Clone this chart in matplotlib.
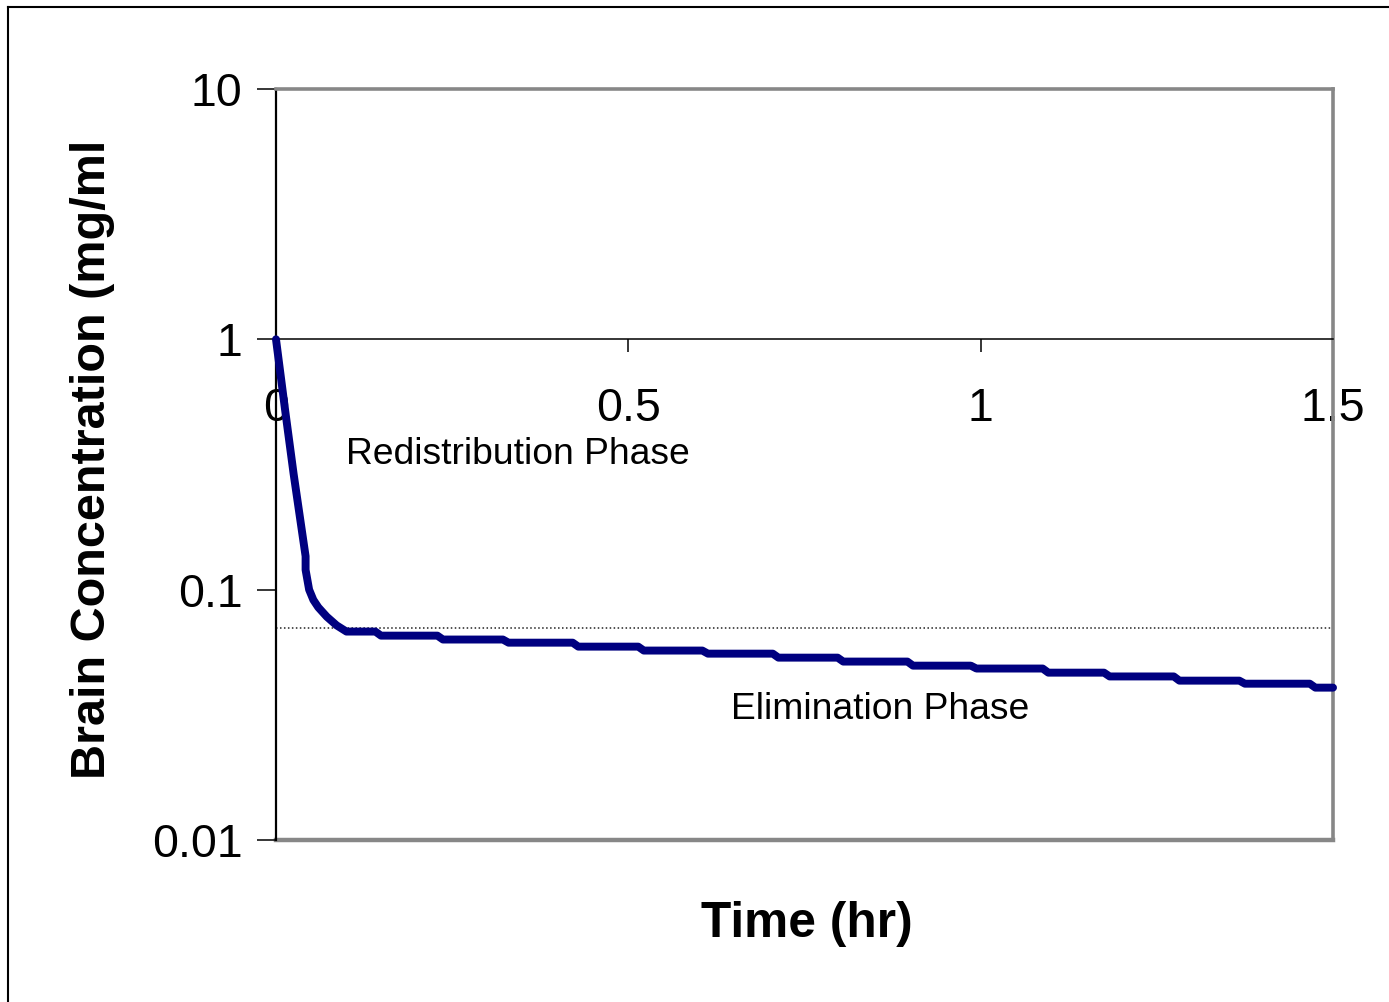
import numpy as np
import matplotlib.pyplot as plt
from matplotlib.lines import Line2D

plt.rcParams['font.family'] = ['Liberation Sans', 'DejaVu Sans']

# redistribution phase (hr, mg/ml)
early_t = [0.0, 0.013, 0.025, 0.042, 0.042, 0.047, 0.053, 0.060, 0.072, 0.086, 0.100]
early_c = [1.0, 0.52, 0.29, 0.136, 0.120, 0.100, 0.091, 0.085, 0.078, 0.072, 0.068]

# elimination phase: the curve drops one level at each of these times
step_t = [0.141, 0.229, 0.322, 0.421, 0.514, 0.605, 0.705, 0.797, 0.896,
          0.986, 1.088, 1.175, 1.274, 1.367, 1.467]
step_c = [0.0655, 0.0632, 0.0614, 0.0592, 0.0571, 0.0555, 0.0535, 0.0516,
          0.0497, 0.0484, 0.0466, 0.0450, 0.0433, 0.0421, 0.0406]
t_end = 1.5

ref_level = 0.07
x_ticks = [0, 0.5, 1, 1.5]
x_labels = ['0', '0.5', '1', '1.5']
y_ticks = [0.01, 0.1, 1, 10]
y_labels = ['0.01', '0.1', '1', '10']

# build the stepped path
t = list(early_t)
c = list(early_c)
for ts, cs in zip(step_t, step_c):
    t += [ts, ts + 0.008]
    c += [c[-1], cs]
t.append(t_end)
c.append(c[-1])

fig = plt.figure(figsize=(13.89, 10.02), dpi=100)
ax = fig.add_axes([0.1987, 0.1617, 0.761, 0.7495])

ax.set_yscale('log')
ax.set_xlim(0, 1.5)
ax.set_ylim(0.01, 10)

ax.axhline(ref_level, color='#222222', lw=1.1, ls=(0, (1, 1.6)), zorder=2)
ax.plot(t, c, color='#000080', lw=5.7, solid_capstyle='round',
        solid_joinstyle='round', zorder=3, clip_on=False)

# excel-like frame: gray box, x axis crossing at 1
for s in ['top', 'right']:
    ax.spines[s].set_color('#878787')
    ax.spines[s].set_linewidth(2.6)
ax.spines['left'].set_color('black')
ax.spines['left'].set_linewidth(1.6)
ax.spines['bottom'].set_position(('data', 1))
ax.spines['bottom'].set_color('black')
ax.spines['bottom'].set_linewidth(1.1)
ax.axhline(0.01, color='#878787', lw=3.2, clip_on=False, zorder=1)

ax.set_xticks(x_ticks)
ax.set_xticklabels(x_labels)
ax.set_yticks(y_ticks)
ax.set_yticklabels(y_labels)
ax.yaxis.set_minor_locator(plt.NullLocator())
ax.tick_params(axis='x', direction='out', length=9, width=1.1, pad=25, labelsize=33.5)
ax.tick_params(axis='y', direction='out', length=14, width=1.1, pad=10, labelsize=33.5)

ax.text(0.1, 0.346, 'Redistribution Phase', fontsize=26.8, ha='left', va='center')
ax.text(0.646, 0.0332, 'Elimination Phase', fontsize=26.8, ha='left', va='center')

ax.set_xlabel('Time (hr)', fontsize=35.7, fontweight='bold')
ax.xaxis.set_label_coords(0.502, -0.081)
fig.text(0.0665, 0.542, 'Brain Concentration (mg/ml', rotation=90, fontsize=35,
         fontweight='bold', ha='center', va='center')

# outer slide frame
fig.add_artist(Line2D([8 / 1389, 8 / 1389], [0, 1 - 7 / 1002], transform=fig.transFigure,
                      color='black', lw=1.5))
fig.add_artist(Line2D([8 / 1389, 1], [1 - 7 / 1002, 1 - 7 / 1002], transform=fig.transFigure,
                      color='black', lw=1.5))

fig.savefig('out.png', dpi=100)
